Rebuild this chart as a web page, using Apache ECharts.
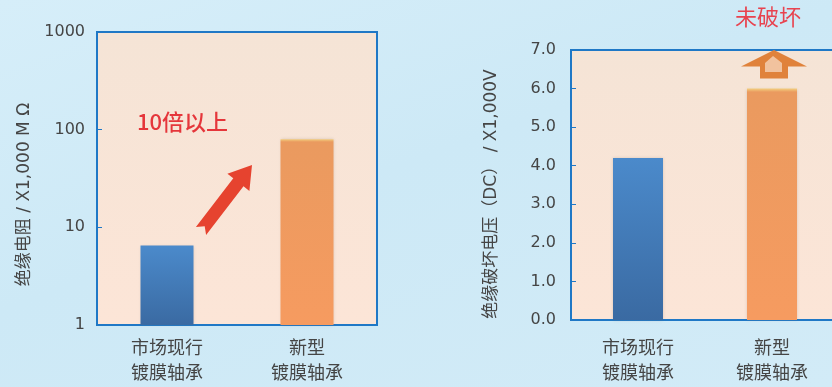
<!DOCTYPE html>
<html>
<head>
<meta charset="utf-8">
<script src="https://cdn.jsdelivr.net/npm/echarts@6/dist/echarts.min.js"></script>
<style>
  html, body { margin: 0; padding: 0; }
  #chart {
    width: 832px;
    height: 387px;
    background: linear-gradient(160deg, #d6eef9 0%, #cde9f6 45%, #d2ebf7 100%);
  }
</style>
</head>
<body>
<div id="chart"></div>
<script>
// data
const categories = ['市场现行\n镀膜轴承', '新型\n镀膜轴承']
const resistanceValues = [6.5, 80]        // x1,000 MΩ, log scale
const breakdownValues = [4.2, 6.0]        // x1,000 V (DC)
const resistanceTicks = [1, 10, 100, 1000]
const breakdownTicks = ['0.0', '1.0', '2.0', '3.0', '4.0', '5.0', '6.0', '7.0']

const FONT = 'DejaVu Sans, Noto Sans CJK SC, sans-serif'
const TEXT = '#454545'
const BORDER = '#1f78c6'

const plotFill = new echarts.graphic.LinearGradient(0, 0, 0, 1, [
  { offset: 0, color: '#f5e4d6' },
  { offset: 1, color: '#fce5d7' }
])
const blueBar = new echarts.graphic.LinearGradient(0, 0, 0, 1, [
  { offset: 0, color: '#4b8acb' },
  { offset: 1, color: '#3a6aa2' }
])
const orangeBar = new echarts.graphic.LinearGradient(0, 0, 0, 1, [
  { offset: 0, color: '#f3cf7e' },
  { offset: 0.015, color: '#ea9a5f' },
  { offset: 1, color: '#f69b60' }
])

function catAxis (gridIndex, margin) {
  return {
    type: 'category',
    gridIndex: gridIndex,
    data: categories,
    axisLine: { lineStyle: { color: BORDER, width: 2 } },
    axisTick: { show: false },
    axisLabel: {
      color: TEXT,
      fontSize: 18,
      lineHeight: 25,
      fontFamily: FONT,
      margin: margin,
      interval: 0
    }
  }
}

const chart = echarts.init(document.getElementById('chart'))

chart.setOption({
  animation: false,
  grid: [
    {
      left: 97, top: 32, width: 280, height: 293,
      outerBoundsMode: 'none',
      show: true, backgroundColor: plotFill, borderColor: BORDER, borderWidth: 2
    },
    {
      left: 571, top: 50, width: 268, height: 270,
      outerBoundsMode: 'none',
      show: true, backgroundColor: plotFill, borderColor: BORDER, borderWidth: 2
    }
  ],
  xAxis: [catAxis(0, 12), catAxis(1, 17)],
  yAxis: [
    {
      type: 'log',
      gridIndex: 0,
      logBase: 10,
      min: resistanceTicks[0],
      max: resistanceTicks[resistanceTicks.length - 1],
      name: '绝缘电阻 / X1,000 M Ω',
      nameLocation: 'middle',
      nameGap: 64,
      nameTextStyle: { color: TEXT, fontSize: 17, fontFamily: FONT, padding: [0, 32, 0, 0] },
      axisLine: { show: true, lineStyle: { color: BORDER, width: 2 } },
      axisTick: { show: true, inside: true, length: 5, lineStyle: { color: BORDER } },
      minorTick: { show: false },
      splitLine: { show: false },
      axisLabel: { color: TEXT, fontSize: 16, fontFamily: FONT, margin: 12, formatter: v => String(Math.round(v)) }
    },
    {
      type: 'value',
      gridIndex: 1,
      min: 0,
      max: breakdownTicks.length - 1,
      interval: 1,
      name: '绝缘破坏电压（DC） / X1,000V',
      nameLocation: 'middle',
      nameGap: 71,
      nameTextStyle: { color: TEXT, fontSize: 17, fontFamily: FONT, padding: [0, 18, 0, 0] },
      axisLine: { show: true, lineStyle: { color: BORDER, width: 2 } },
      axisTick: { show: true, inside: true, length: 5, lineStyle: { color: BORDER } },
      splitLine: { show: false },
      axisLabel: { color: TEXT, fontSize: 16, fontFamily: FONT, margin: 15, formatter: v => breakdownTicks[v] }
    }
  ],
  series: [
    {
      type: 'bar',
      xAxisIndex: 0,
      yAxisIndex: 0,
      barWidth: 53,
      data: resistanceValues.map((v, i) => ({
        value: v,
        itemStyle: { color: i === 0 ? blueBar : orangeBar }
      })),
      itemStyle: { shadowBlur: 3, shadowColor: 'rgba(120,100,90,0.25)' }
    },
    {
      type: 'bar',
      xAxisIndex: 1,
      yAxisIndex: 1,
      barWidth: 50,
      data: breakdownValues.map((v, i) => ({
        value: v,
        itemStyle: { color: i === 0 ? blueBar : orangeBar }
      })),
      itemStyle: { shadowBlur: 3, shadowColor: 'rgba(120,100,90,0.25)' }
    }
  ],
  graphic: [
    {
      type: 'text',
      left: 137,
      top: 111,
      style: { text: '10倍以上', fill: '#e5363b', font: '500 22px "Noto Sans CJK SC", sans-serif' }
    },
    {
      // red arrow
      type: 'polygon',
      shape: {
        points: [
          [252, 165], [249.4, 190.9], [243.5, 186.3], [206.1, 235],
          [204.7, 226.3], [195.9, 227], [233.3, 178.3], [227.4, 173.7]
        ]
      },
      style: { fill: '#e6432f' }
    },
    {
      type: 'text',
      left: 735,
      top: 6,
      style: { text: '未破坏', fill: '#e8434f', font: '22px "Noto Sans CJK SC", sans-serif' }
    },
    {
      // orange up arrow above the new bearing bar
      type: 'polygon',
      shape: {
        points: [[774, 50], [807, 66.5], [788, 66.5], [788, 78.5], [760, 78.5], [760, 66.5], [741, 66.5]]
      },
      style: { fill: '#e0823b' }
    },
    {
      type: 'polygon',
      shape: {
        points: [[773, 56], [782, 63], [782, 72], [765, 72], [765, 63]]
      },
      style: { fill: '#f1c29e' }
    }
  ]
})
</script>
</body>
</html>
